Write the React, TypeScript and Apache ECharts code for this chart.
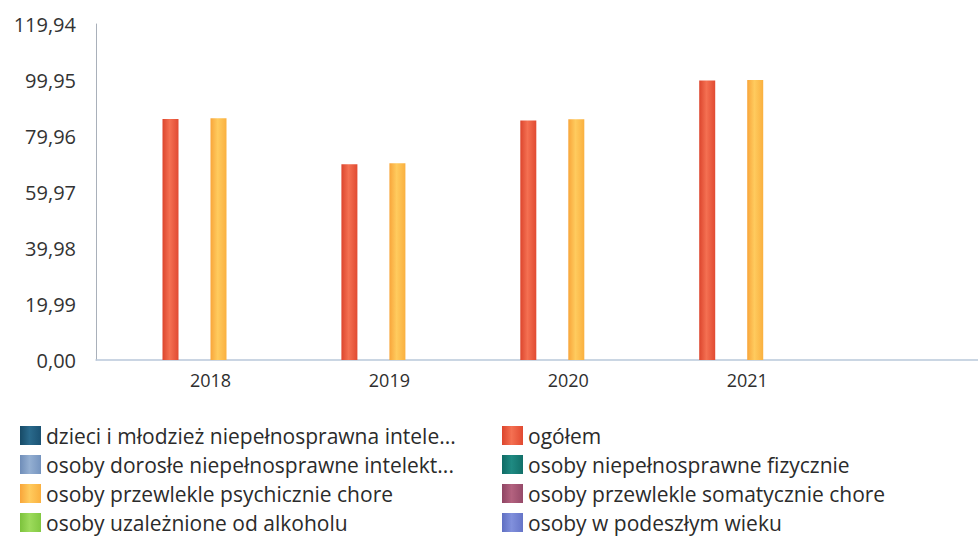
import React, { useEffect, useRef } from "react";
import * as echarts from "echarts";

const years = [2018, 2019, 2020, 2021];

const seriesNames = [
  "dzieci i młodzież niepełnosprawna intelektualnie",
  "ogółem",
  "osoby dorosłe niepełnosprawne intelektualnie",
  "osoby niepełnosprawne fizycznie",
  "osoby przewlekle psychicznie chore",
  "osoby przewlekle somatycznie chore",
  "osoby uzależnione od alkoholu",
  "osoby w podeszłym wieku",
];

const legendLabels = [
  "dzieci i młodzież niepełnosprawna intele...",
  "ogółem",
  "osoby dorosłe niepełnosprawne intelekt...",
  "osoby niepełnosprawne fizycznie",
  "osoby przewlekle psychicznie chore",
  "osoby przewlekle somatycznie chore",
  "osoby uzależnione od alkoholu",
  "osoby w podeszłym wieku",
];

const dzieci: (number | null)[] = [null, null, null, null];
const ogolem = [86.0, 69.9, 85.5, 99.75];
const dorosle: (number | null)[] = [null, null, null, null];
const fizycznie: (number | null)[] = [null, null, null, null];
const psychicznie = [86.3, 70.2, 85.9, 99.95];
const somatycznie: (number | null)[] = [null, null, null, null];
const alkohol: (number | null)[] = [null, null, null, null];
const wiek: (number | null)[] = [null, null, null, null];

const yMax = 119.94;
const yStep = 19.99;

const grad = (a: string, b: string, c: string) =>
  new echarts.graphic.LinearGradient(0, 0, 1, 0, [
    { offset: 0, color: a },
    { offset: 0.45, color: b },
    { offset: 1, color: c },
  ]);

export default function App() {
  const ref = useRef<HTMLDivElement>(null);
  useEffect(() => {
    if (!ref.current) return;
    const chart = echarts.init(ref.current, null, { renderer: "svg" });
    const values = [dzieci, ogolem, dorosle, fizycznie, psychicznie, somatycznie, alkohol, wiek];
    const colors = [
      grad("#174a66", "#2a6a8c", "#1b5273"),
      grad("#dc452d", "#f47052", "#e14a31"),
      grad("#6f8db8", "#94afd2", "#7594bf"),
      grad("#0f6b65", "#1f8a82", "#127069"),
      grad("#f8a53a", "#ffcb5e", "#fab03f"),
      grad("#8f4463", "#b3627f", "#964a69"),
      grad("#7cc23c", "#9ddb5c", "#82c842"),
      grad("#5f6fc2", "#8190dc", "#6675c8"),
    ];
    chart.setOption({
      animation: false,
      backgroundColor: "#ffffff",
      textStyle: { fontFamily: "Open Sans" },
      grid: { left: 96, right: 0, top: 24, bottom: 177, containLabel: false },
      xAxis: {
        type: "value",
        min: 2017.36,
        max: 2022.29,
        splitLine: { show: false },
        axisLine: { show: true, onZero: false, lineStyle: { color: "#b9c8da", width: 1.5 } },
        axisTick: { show: false },
        axisLabel: {
          customValues: years,
          formatter: (v: number) => String(v),
          color: "#2e2e2e",
          fontSize: 18,
          margin: 11,
          fontFamily: "Open Sans",
        },
      },
      yAxis: {
        type: "value",
        min: 0,
        max: yMax,
        interval: yStep,
        splitLine: { show: false },
        axisLine: { show: true, lineStyle: { color: "#a9b0ba", width: 1 } },
        axisTick: { show: false },
        axisLabel: {
          formatter: (v: number) => v.toFixed(2).replace(".", ","),
          color: "#333333",
          fontSize: 20,
          margin: 20,
          fontFamily: "Open Sans",
        },
      },
      legend: {
        left: 20,
        top: 425,
        right: 0,
        orient: "horizontal",
        padding: 0,
        itemGap: 8,
        itemWidth: 21,
        itemHeight: 19,
        icon: "rect",
        data: seriesNames,
        formatter: (name: string) => legendLabels[seriesNames.indexOf(name)],
        textStyle: {
          fontSize: 21,
          color: "#2b2b2b",
          width: 448,
          lineHeight: 21,
          fontFamily: "Open Sans",
        },
      },
      series: seriesNames.map((name, i) => ({
        name,
        type: "bar",
        barWidth: 16,
        barGap: "0%",
        data: years.map((y, k) => [y, values[i][k]]),
        itemStyle: { color: colors[i] },
      })),
    });
    return () => chart.dispose();
  }, []);
  return (
    <div
      ref={ref}
      style={{ position: "fixed", left: 0, top: 0, width: 978, height: 537, background: "#fff" }}
    />
  );
}
